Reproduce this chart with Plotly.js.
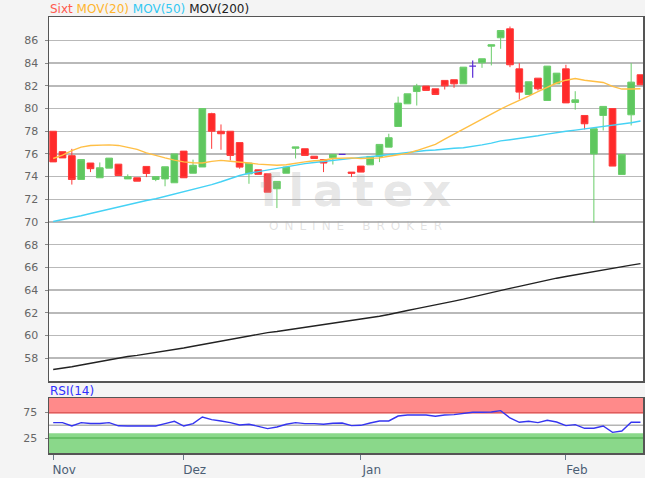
<!DOCTYPE html>
<html>
<head>
<meta charset="utf-8">
<script src="https://cdn.plot.ly/plotly-3.0.1.min.js"></script>
<style>
html, body { margin: 0; padding: 0; background: #f4f4f4; }
#chart { width: 645px; height: 478px; }
</style>
</head>
<body>
<div id="chart"></div>
<script>
// ---- data (Sixt, daily candles) ----
const openP  = [78.0, 76.2, 75.85, 73.75, 75.2, 73.9, 74.75, 75.1, 73.8, 73.9,
                74.9, 73.75, 73.8, 73.46, 76.25, 74.3, 74.85, 79.55, 78.0, 78.0,
                77.0, 74.25, 74.6, 74.25, 72.93, 74.3, 76.5, 76.46, 75.8, 75.5,
                75.66, 75.96, 74.4, 74.93, 75.04, 75.78, 76.6, 78.42, 80.42, 81.5,
                81.98, 81.74, 82.48, 82.54, 82.18, 83.74, 84.04, 85.5, 86.24, 87.03,
                83.5, 81.24, 82.68, 80.71, 82.18, 83.5, 80.54, 79.39, 76.0, 79.39,
                80.0, 74.19, 79.45, 82.98];
const highP  = [78.0, 76.2, 76.45, 75.5, 75.2, 75.25, 75.63, 75.1, 74.2, 73.9,
                74.9, 74.0, 74.87, 76.0, 76.25, 75.5, 80.0, 79.63, 78.6, 78.0,
                77.0, 75.19, 74.6, 74.25, 73.58, 74.84, 76.62, 76.46, 75.8, 75.5,
                75.96, 75.96, 74.4, 74.93, 75.78, 76.84, 77.78, 81.05, 81.3, 82.18,
                81.98, 81.74, 82.48, 82.54, 83.65, 84.24, 84.39, 85.62, 86.88, 87.23,
                84.0, 82.36, 82.68, 83.74, 83.12, 83.86, 81.53, 79.39, 78.22, 80.19,
                80.0, 75.96, 84.0, 82.98];
const lowP   = [75.3, 75.65, 73.3, 73.75, 74.4, 73.9, 74.75, 74.1, 73.8, 73.6,
                73.96, 73.6, 73.15, 73.46, 73.9, 74.3, 74.85, 76.45, 76.37, 75.43,
                74.7, 73.37, 74.2, 72.63, 71.23, 74.3, 75.6, 75.87, 75.6, 74.4,
                75.07, 75.96, 73.96, 74.4, 75.04, 75.28, 76.6, 78.42, 80.42, 80.27,
                81.6, 81.24, 81.68, 81.83, 82.18, 82.71, 83.59, 83.8, 85.27, 83.65,
                80.8, 81.24, 81.6, 80.71, 82.18, 80.5, 79.9, 78.16, 69.94, 78.07,
                74.93, 74.19, 78.51, 82.1];
const closeP = [75.3, 75.65, 73.75, 75.5, 74.7, 74.78, 75.63, 74.1, 74.0, 73.6,
                74.28, 74.0, 74.87, 76.0, 73.9, 75.0, 80.0, 78.0, 77.78, 75.87,
                74.84, 75.19, 74.2, 72.63, 73.58, 74.84, 76.62, 75.87, 75.6, 75.2,
                75.96, 75.96, 74.3, 74.4, 75.78, 76.84, 77.43, 80.48, 81.3, 81.98,
                81.6, 81.24, 82.0, 82.18, 83.65, 83.74, 84.39, 85.62, 86.88, 83.86,
                81.45, 82.36, 81.74, 83.74, 83.12, 80.5, 80.77, 78.66, 78.22, 80.19,
                74.93, 75.96, 82.33, 82.1];
const mov20  = [75.6, 75.9, 76.3, 76.6, 76.75, 76.8, 76.8, 76.75, 76.6, 76.4,
                76.1, 75.85, 75.65, 75.45, 75.3, 75.22, 75.2, 75.35, 75.43, 75.35,
                75.3, 75.2, 75.1, 75.05, 75.0, 75.05, 75.2, 75.3, 75.4, 75.45,
                75.6, 75.65, 75.65, 75.6, 75.6, 75.65, 75.8, 75.9, 76.05, 76.3,
                76.55, 76.85, 77.3, 77.75, 78.2, 78.6, 79.05, 79.5, 79.95, 80.35,
                80.7, 81.1, 81.5, 81.9, 82.25, 82.5, 82.65, 82.5, 82.4, 82.3,
                81.95, 81.72, 81.72, 81.75];
const mov50  = [70.05, 70.2, 70.4, 70.55, 70.75, 70.95, 71.15, 71.3, 71.5, 71.7,
                71.9, 72.05, 72.25, 72.45, 72.65, 72.85, 73.05, 73.3, 73.55, 73.85,
                74.1, 74.3, 74.45, 74.6, 74.75, 74.9, 75.05, 75.15, 75.25, 75.35,
                75.45, 75.55, 75.6, 75.7, 75.75, 75.85, 75.95, 76.05, 76.15, 76.2,
                76.3, 76.35, 76.45, 76.5, 76.55, 76.65, 76.8, 76.95, 77.15, 77.25,
                77.35, 77.45, 77.6, 77.75, 77.9, 78.0, 78.1, 78.2, 78.3, 78.4,
                78.55, 78.65, 78.75, 78.9];
const mov200 = [57.0, 57.1, 57.25, 57.4, 57.55, 57.7, 57.9, 58.05, 58.15, 58.25,
                58.37, 58.5, 58.65, 58.75, 58.9, 59.05, 59.2, 59.35, 59.53, 59.7,
                59.85, 60.0, 60.14, 60.25, 60.35, 60.47, 60.58, 60.7, 60.82, 60.95,
                61.08, 61.2, 61.32, 61.45, 61.58, 61.7, 61.85, 62.0, 62.2, 62.37,
                62.52, 62.7, 62.87, 63.03, 63.2, 63.4, 63.6, 63.8, 63.97, 64.15,
                64.33, 64.52, 64.7, 64.9, 65.05, 65.2, 65.35, 65.5, 65.62, 65.77,
                65.9, 66.05, 66.2, 66.33];
const rsi14  = [55.3, 55.3, 48.6, 55.3, 53.5, 53.5, 55.3, 49.0, 48.6, 48.6,
                50.0, 48.6, 53.3, 57.9, 48.6, 53.3, 66.3, 61.2, 58.5, 55.3,
                50.5, 52.0, 48.0, 43.5, 46.7, 52.0, 55.3, 53.3, 53.3, 52.0,
                54.0, 54.5, 49.4, 50.0, 54.5, 58.5, 58.5, 68.3, 70.3, 70.3,
                70.3, 67.7, 70.3, 71.1, 73.0, 75.6, 75.6, 76.2, 78.9, 64.4,
                55.9, 57.9, 55.3, 59.8, 56.5, 49.4, 51.4, 44.1, 44.1, 48.6,
                36.2, 38.8, 55.9, 55.9];
const monthTickIdx    = [0, 14, 33, 55];
const monthTickLabels = ['Nov', 'Dez', 'Jan', 'Feb'];
const priceTicks = [58, 60, 62, 64, 66, 68, 70, 72, 74, 76, 78, 80, 82, 84, 86];
const rsiTicks   = [25, 75];

// ---- build traces ----
const idx = openP.map((_, i) => i);
const regIdx  = idx.filter(i => openP[i] !== closeP[i]);
const dojiIdx = idx.filter(i => openP[i] === closeP[i]);
const sel = (arr, ids) => ids.map(i => arr[i]);

const FONT = 'DejaVu Sans, Verdana, sans-serif';

const traces = [
  {
    type: 'scatter', mode: 'lines', x: idx, y: mov200, xaxis: 'x', yaxis: 'y',
    line: { color: '#222222', width: 1.4 }, hoverinfo: 'skip'
  },
  {
    type: 'scatter', mode: 'lines', x: idx, y: mov50, xaxis: 'x', yaxis: 'y',
    line: { color: '#45d2f5', width: 1.4 }, hoverinfo: 'skip'
  },
  {
    type: 'scatter', mode: 'lines', x: idx, y: mov20, xaxis: 'x', yaxis: 'y',
    line: { color: '#ffbf45', width: 1.4 }, hoverinfo: 'skip'
  },
  {
    type: 'candlestick', xaxis: 'x', yaxis: 'y',
    x: regIdx, open: sel(openP, regIdx), high: sel(highP, regIdx),
    low: sel(lowP, regIdx), close: sel(closeP, regIdx),
    whiskerwidth: 0,
    increasing: { line: { color: '#6acd6a', width: 1 }, fillcolor: '#5fc75f' },
    decreasing: { line: { color: '#ff3a3a', width: 1 }, fillcolor: '#ff2a2a' }
  },
  {
    type: 'candlestick', xaxis: 'x', yaxis: 'y',
    x: dojiIdx, open: sel(openP, dojiIdx), high: sel(highP, dojiIdx),
    low: sel(lowP, dojiIdx), close: sel(closeP, dojiIdx),
    whiskerwidth: 0,
    increasing: { line: { color: '#5a2bd6', width: 1.2 }, fillcolor: '#5a2bd6' },
    decreasing: { line: { color: '#5a2bd6', width: 1.2 }, fillcolor: '#5a2bd6' }
  },
  {
    type: 'scatter', mode: 'lines', x: idx, y: rsi14, xaxis: 'x2', yaxis: 'y2',
    line: { color: '#3535f0', width: 1.4 }, hoverinfo: 'skip'
  }
];

const xRange = [-0.45, 63.27];
const mainDomain = [0.1644, 1];
const rsiDomain  = [0, 0.1261];

const layout = {
  width: 645, height: 478,
  paper_bgcolor: '#f4f4f4', plot_bgcolor: '#ffffff',
  margin: { l: 48.5, r: 2, t: 16.5, b: 25.3, pad: 0 },
  showlegend: false,
  boxgap: 0, boxgroupgap: 0.28,
  font: { family: FONT, size: 11, color: '#666666' },
  xaxis: {
    anchor: 'y', range: xRange, showgrid: false, zeroline: false,
    showticklabels: false, ticks: '', fixedrange: true,
    showline: true, mirror: true, linecolor: '#555555', linewidth: 1.5,
    rangeslider: { visible: false }
  },
  yaxis: {
    domain: mainDomain, range: [55.96, 88.07], tickvals: priceTicks,
    showgrid: true, gridcolor: '#b9b9b9', gridwidth: 1.5, zeroline: false,
    ticks: 'outside', ticklen: 3, tickcolor: '#888888', tickwidth: 1,
    ticklabelstandoff: 4,
    tickfont: { family: FONT, size: 11, color: '#666666' },
    showline: true, mirror: true, linecolor: '#555555', linewidth: 1.5
  },
  xaxis2: {
    anchor: 'y2', matches: 'x', range: xRange,
    tickvals: monthTickIdx, ticktext: monthTickLabels,
    ticks: 'outside', ticklen: 5, tickcolor: '#6a7a8a', tickwidth: 1,
    ticklabelshift: 11,
    tickfont: { family: FONT, size: 12, color: '#4b5e74' },
    showgrid: false, zeroline: false,
    showline: true, mirror: true, linecolor: '#555555', linewidth: 1.5,
    rangeslider: { visible: false }
  },
  yaxis2: {
    domain: rsiDomain, range: [-4.5, 103.7], tickvals: rsiTicks,
    showgrid: false, zeroline: false,
    ticks: 'outside', ticklen: 3, tickcolor: '#888888',
    ticklabelstandoff: 5,
    tickfont: { family: FONT, size: 11, color: '#666666' },
    showline: true, mirror: true, linecolor: '#555555', linewidth: 1.5
  },
  shapes: [
    { type: 'rect', layer: 'below', xref: 'x2 domain', yref: 'y2', x0: 0, x1: 1, y0: 73.5, y1: 104,
      fillcolor: '#ff8a8a', line: { width: 0 } },
    { type: 'line', layer: 'below', xref: 'x2 domain', yref: 'y2', x0: 0, x1: 1, y0: 74.5, y1: 74.5,
      line: { color: '#e05c5c', width: 1.5 } },
    { type: 'rect', layer: 'below', xref: 'x2 domain', yref: 'y2', x0: 0, x1: 1, y0: -5, y1: 34.5,
      fillcolor: '#8ad88a', line: { width: 0 } },
    { type: 'line', layer: 'below', xref: 'x2 domain', yref: 'y2', x0: 0, x1: 1, y0: 25, y1: 25,
      line: { color: '#5db85d', width: 1.5 } },
    { type: 'line', layer: 'below', xref: 'x2 domain', yref: 'y2', x0: 0, x1: 1, y0: 50, y1: 50,
      line: { color: '#b5b5b5', width: 1.5 } }
  ],
  annotations: [
    { xref: 'paper', yref: 'paper', x: 0, y: 1, xanchor: 'left', yanchor: 'middle',
      yshift: 8.5, xshift: -1, showarrow: false,
      font: { family: FONT, size: 12, color: '#222222' },
      text: '<span style="color:#ff5a4e">Sixt</span> <span style="color:#ffb52e">MOV(20)</span> ' +
            '<span style="color:#33c8f2">MOV(50)</span> <span style="color:#222222">MOV(200)</span>' },
    { xref: 'paper', yref: 'paper', x: 0, y: rsiDomain[1], xanchor: 'left', yanchor: 'middle',
      yshift: 7, xshift: -1, showarrow: false,
      font: { family: FONT, size: 12, color: '#2f2fff' }, text: 'RSI(14)' },
    { xref: 'paper', yref: 'paper', x: 0.5156, y: 0.602, xanchor: 'center', yanchor: 'middle',
      showarrow: false,
      font: { family: 'DejaVu Sans, sans-serif', size: 45, color: 'rgba(170,170,170,0.3)', weight: 'bold' },
      text: 'f\u2009l\u2009a\u2009t\u2009e\u2009x' },
    { xref: 'paper', yref: 'paper', x: 0.5156, y: 0.52, xanchor: 'center', yanchor: 'middle',
      showarrow: false,
      font: { family: 'DejaVu Sans, sans-serif', size: 12, color: 'rgba(170,170,170,0.35)' },
      text: 'O\u2002N\u2002L\u2002I\u2002N\u2002E\u2002\u2002\u2002B\u2002R\u2002O\u2002K\u2002E\u2002R' }
  ]
};

Plotly.newPlot('chart', traces, layout, { displayModeBar: false, staticPlot: true });
</script>
</body>
</html>
